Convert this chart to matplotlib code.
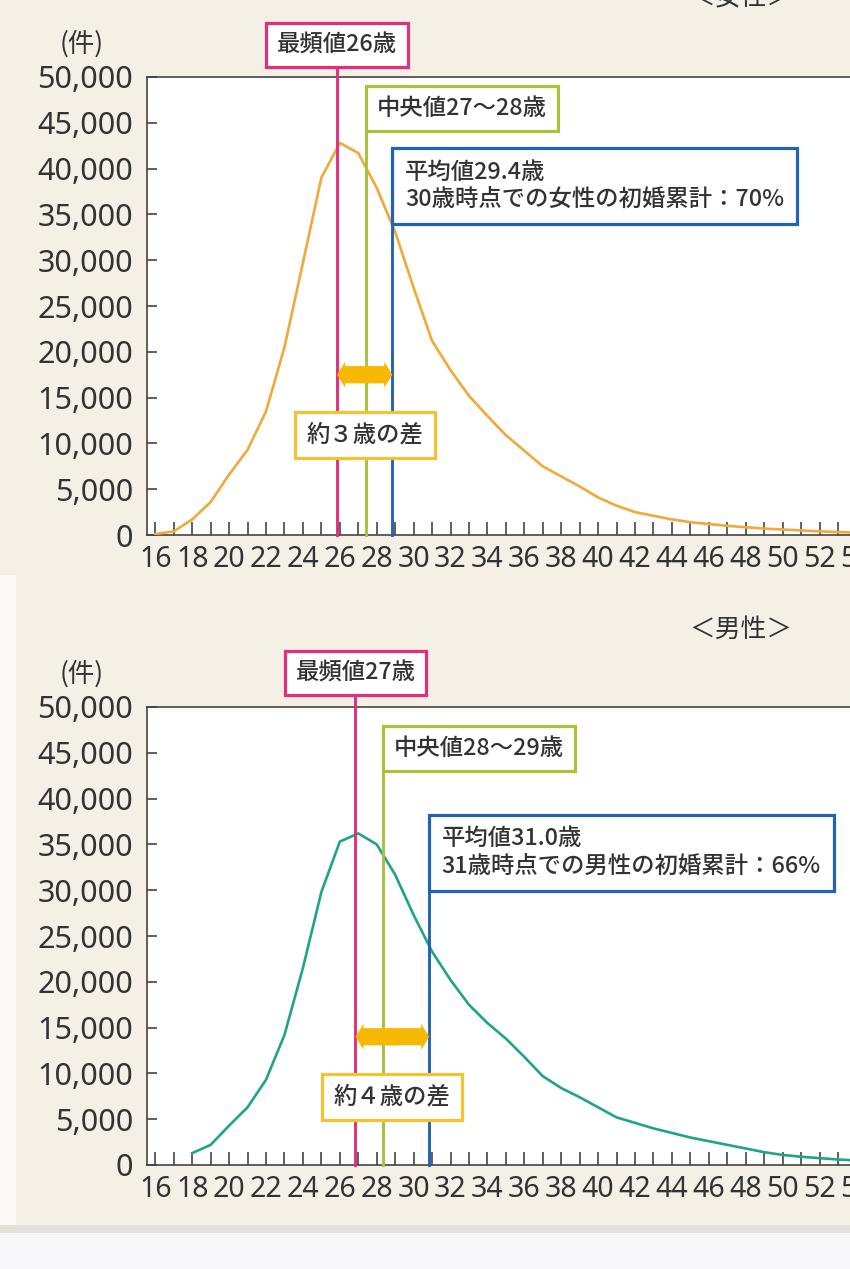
import matplotlib
matplotlib.use("Agg")
import matplotlib.pyplot as plt
from matplotlib.patches import Rectangle, FancyArrowPatch

plt.rcParams['font.family'] = ['Noto Sans CJK JP', 'DejaVu Sans']

# Données (nombre de premiers mariages par âge)
ages_f = list(range(16, 55))
mariages_f = [100, 400, 1700, 3600, 6600, 9300, 13500, 20500, 29700, 39000,
              42800, 41700, 37900, 33100, 27000, 21200, 18000, 15200, 13000, 10900,
              9200, 7500, 6400, 5300, 4100, 3200, 2500, 2100, 1700, 1400,
              1200, 1000, 850, 700, 600, 500, 400, 320, 260]

ages_h = list(range(18, 55))
mariages_h = [1300, 2200, 4300, 6300, 9300, 14200, 21500, 29800, 35300, 36200,
              35000, 31700, 27300, 23300, 20200, 17500, 15500, 13800, 11800, 9700,
              8400, 7400, 6300, 5200, 4600, 4000, 3500, 3000, 2600, 2200,
              1800, 1400, 1100, 900, 750, 600, 500]

# mode / médiane / moyenne (positions des traits verticaux)
stats_f = [25.85, 27.4, 28.85]
stats_h = [26.85, 28.35, 30.85]

textes_f = ["最頻値26歳", "中央値27〜28歳",
            "平均値29.4歳\n30歳時点での女性の初婚累計：70%", "約３歳の差"]
textes_h = ["最頻値27歳", "中央値28〜29歳",
            "平均値31.0歳\n31歳時点での男性の初婚累計：66%", "約４歳の差"]

yticks = list(range(0, 50001, 5000))
ytick_labels = [f"{v:,}" for v in yticks]
xticks = list(range(16, 57, 2))

W, H, DPI = 850, 1269, 100
BG = '#f4f0e6'
ROSE = '#e0307c'
VERT = '#a9c23c'
BLEU = '#2462b6'
JAUNE = '#f6b800'
CADRE_JAUNE = '#f4c430'
TXT = '#333333'
XMIN, XMAX = 15.55, 56.0
PX_AN = 18.45


def panneau(fig, top_px, ages, vals, couleur, stats, textes, y_cadres, titre, y_titre):
    bas_px = top_px + 458
    ax = fig.add_axes([147 / W, 1 - bas_px / H, (XMAX - XMIN) * PX_AN / W, 458 / H])
    ax.set_facecolor('white')
    ax.set_xlim(XMIN, XMAX)
    ax.set_ylim(0, 50000)

    ax.plot(ages, vals, color=couleur, lw=1.9, zorder=3)

    mode, med, moy = stats
    y_mode, y_med, y_moy, y_fleche, y_ecart = y_cadres

    # traits verticaux jusqu'aux cadres
    for x, yb, c in [(mode, y_mode, ROSE), (med, y_med, VERT), (moy, y_moy, BLEU)]:
        ax.plot([x, x], [0, yb], color=c, lw=2.1, zorder=4, clip_on=False)

    kw = dict(fontsize=16.8, color=TXT, va='center', zorder=6, fontweight='medium')
    ax.text(mode, y_mode, textes[0], ha='center',
            bbox=dict(boxstyle='square,pad=0.45', fc='white', ec=ROSE, lw=2.3), **kw)
    ax.annotate(textes[1], xy=(med, y_med), xytext=(8, 0), textcoords='offset points',
                ha='left', bbox=dict(boxstyle='square,pad=0.47', fc='white', ec=VERT, lw=2.3), **kw)
    ax.annotate(textes[2], xy=(moy, y_moy), xytext=(9, 0), textcoords='offset points',
                ha='left', linespacing=1.25,
                bbox=dict(boxstyle='square,pad=0.55', fc='white', ec=BLEU, lw=2.3), **kw)

    # double flèche entre mode et moyenne (deux moitiés qui se chevauchent)
    milieu = (mode + moy) / 2
    for depart, bout in ((milieu + 0.3, mode), (milieu - 0.3, moy)):
        fl = FancyArrowPatch((depart, y_fleche), (bout, y_fleche),
                             arrowstyle='simple,head_length=0.45,head_width=1.45,tail_width=0.95',
                             mutation_scale=13, color=JAUNE, lw=0, shrinkA=0, shrinkB=0, zorder=5)
        ax.add_patch(fl)
    ax.text(milieu, y_ecart, textes[3], ha='center',
            bbox=dict(boxstyle='square,pad=0.5', fc='white', ec=CADRE_JAUNE, lw=2.3), **kw)

    # axes
    ax.set_yticks(yticks)
    ax.set_yticklabels(ytick_labels, family=['Noto Sans', 'DejaVu Sans'], fontsize=22, color=TXT)
    ax.set_xticks(xticks)
    ax.set_xticks(range(16, 57), minor=True)
    ax.set_xticklabels([str(v) for v in xticks],
                       family=['Liberation Sans Narrow', 'Noto Sans'], fontsize=20.5, color=TXT)
    ax.tick_params(axis='y', direction='in', length=7, width=1.2, color='#444444', pad=10)
    ax.tick_params(axis='x', which='both', direction='in', length=9.5, width=1.2,
                   color='#444444', pad=7)
    for s in ax.spines.values():
        s.set_color('#444444')
        s.set_linewidth(1.2)

    fig.text(82 / W, 1 - (top_px - 33) / H, "(件)", fontsize=19, color=TXT,
             ha='center', va='center')
    fig.text(741 / W, 1 - y_titre / H, titre, fontsize=18.5, color=TXT,
             ha='center', va='center')
    return ax


fig = plt.figure(figsize=(W / DPI, H / DPI), dpi=DPI, facecolor=BG)

panneau(fig, 77, ages_f, mariages_f, '#f0a93a', stats_f, textes_f,
        [53500, 46600, 38100, 17500, 10900], "＜女性＞", -2)
panneau(fig, 707, ages_h, mariages_h, '#1fa585', stats_h, textes_h,
        [53700, 45500, 34100, 14000, 7400], "＜男性＞", 630)

# bande blanche à gauche et bas de la capture
fig.patches.append(Rectangle((0, 1 - 1225 / H), 16 / W, (1225 - 575) / H,
                             transform=fig.transFigure, fc='#fbfaf7', ec='none', zorder=-1))
fig.patches.append(Rectangle((0, 1 - 1237 / H), 1, 12 / H, transform=fig.transFigure,
                             fc='#e4e1da', ec='none', zorder=10))
fig.patches.append(Rectangle((0, 0), 1, 1 - 1233 / H, transform=fig.transFigure,
                             fc='#f8f8fb', ec='none', zorder=11))

fig.savefig("out.png", dpi=DPI, facecolor=BG)
